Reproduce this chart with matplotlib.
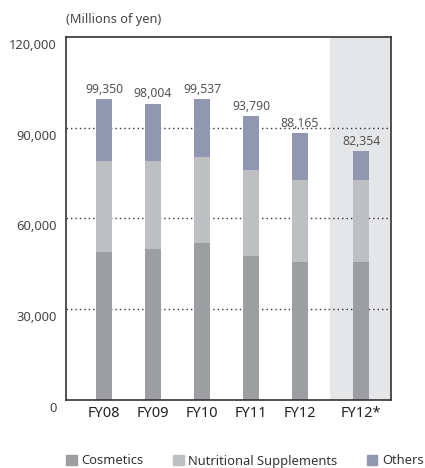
import matplotlib
matplotlib.use("Agg")
import matplotlib.pyplot as plt
import matplotlib.transforms as mtransforms
from matplotlib.patches import Patch

plt.rcParams['font.family'] = ['Noto Sans', 'DejaVu Sans']

years = ["FY08", "FY09", "FY10", "FY11", "FY12", "FY12*"]
cosmetics = [49000, 49900, 52000, 47600, 45600, 45600]
nutritional = [30000, 29100, 28300, 28400, 27100, 27100]
totals = [99350, 98004, 99537, 93790, 88165, 82354]
others = [t - c - n for t, c, n in zip(totals, cosmetics, nutritional)]
yticks = [0, 30000, 60000, 90000, 120000]

c_cos = "#9d9ea2"
c_nut = "#bebfc3"
c_oth = "#9196b1"

fig = plt.figure(figsize=(4.25, 4.68), dpi=100)
ax = fig.add_axes([66 / 425, 1 - 400 / 468, 325 / 425, 363 / 468])

x = [0, 1, 2, 3, 4, 5.245]
w = 0.327
ax.set_xlim(-0.776, 5.857)
ax.set_ylim(0, 120000)

ax.axvspan(4.61, 5.857, color="#e5e6e8", zorder=0, lw=0)
for yv in yticks[1:-1]:
    ax.axhline(yv, color="#333333", ls=(0, (1, 2.2)), lw=1.0, zorder=1)

ax.bar(x, cosmetics, w, color=c_cos, zorder=2)
ax.bar(x, nutritional, w, bottom=cosmetics, color=c_nut, zorder=2)
base2 = [c + n for c, n in zip(cosmetics, nutritional)]
ax.bar(x, others, w, bottom=base2, color=c_oth, zorder=2)

for xi, t in zip(x, totals):
    ax.text(xi, t + 1100, f"{t:,}", ha="center", va="bottom",
            fontsize=8.8, color="#555555")

for s in ax.spines.values():
    s.set_color("#333333")
    s.set_linewidth(1.2)

ax.set_yticks(yticks)
ax.set_yticklabels([f"{v:,}" for v in yticks], fontsize=9.3, color="#444444")
ax.tick_params(axis="y", length=0, pad=7)
offset = mtransforms.ScaledTranslation(0, -7 / 100, fig.dpi_scale_trans)
for lab in ax.get_yticklabels():
    lab.set_transform(lab.get_transform() + offset)

ax.set_xticks(x)
ax.set_xticklabels(years, fontsize=10.5, fontweight="bold", color="#222222")
ax.tick_params(axis="x", length=0, pad=4)

fig.text(66 / 425, 1 - 20 / 468, "(Millions of yen)", fontsize=9.2,
         color="#444444", ha="left", va="center")

handles = [Patch(color=c_cos), Patch(color=c_nut), Patch(color=c_oth)]
fig.legend(handles, ["Cosmetics", "Nutritional Supplements", "Others"],
           loc="center", bbox_to_anchor=(245 / 425, 1 - 461 / 468), ncol=3,
           frameon=False, fontsize=9.3, handlelength=0.8, handleheight=0.8,
           handletextpad=0.35, columnspacing=2.3, labelcolor="#333333",
           borderaxespad=0, borderpad=0)

fig.savefig("out.png", dpi=100)
